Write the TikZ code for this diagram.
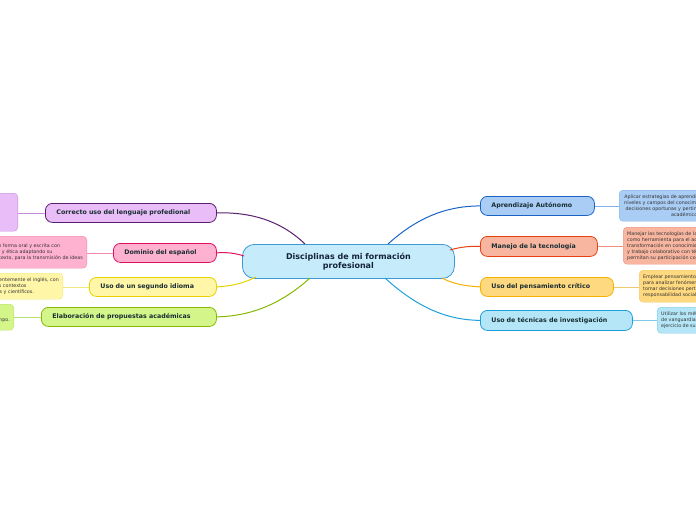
\documentclass[tikz,border=0pt]{standalone}
\usepackage{fontspec}
\setmainfont{DejaVu Sans}
\begin{document}
\begin{tikzpicture}[x=1pt,y=-1pt,
 br/.style={draw,rounded corners=7pt,line width=0.8pt,font=\fontsize{6.3}{7}\selectfont\bfseries,text={rgb,255:red,25;green,45;blue,50},inner ysep=0pt,inner xsep=11pt,align=left,anchor=north west},
 leaf/.style={draw,rounded corners=4pt,line width=0.4pt,font=\fontsize{4.8}{6}\selectfont,text=black!80,inner sep=0pt,anchor=north west,align=left},
 con/.style={line width=1pt},
 lc/.style={line width=0.6pt}]
\useasboundingbox (0,0) rectangle (696,520);
\clip (0,0) rectangle (696,520);
\definecolor{cen}{HTML}{C6EBFB}\definecolor{cenb}{HTML}{3B9AD6}
\definecolor{pu}{HTML}{E8BDF8}\definecolor{pub}{HTML}{5A1F6E}\definecolor{pul}{HTML}{C78AD8}
\definecolor{pk}{HTML}{FFB1D0}\definecolor{pkb}{HTML}{E0105E}\definecolor{pkl}{HTML}{F08AB0}
\definecolor{ye}{HTML}{FFF6A8}\definecolor{yeb}{HTML}{E6D200}\definecolor{yel}{HTML}{F0E880}
\definecolor{gr}{HTML}{D4F58A}\definecolor{grb}{HTML}{86B800}\definecolor{grl}{HTML}{B8E070}
\definecolor{bl}{HTML}{A9CDF5}\definecolor{blb}{HTML}{1A64C8}\definecolor{bll}{HTML}{80B0E8}
\definecolor{or}{HTML}{F8B6A0}\definecolor{orb}{HTML}{E84010}\definecolor{orl}{HTML}{F09080}
\definecolor{go}{HTML}{FFD97F}\definecolor{gob}{HTML}{F5B000}\definecolor{gol}{HTML}{F0C870}
\definecolor{cy}{HTML}{B4E6F8}\definecolor{cyb}{HTML}{1EA0DC}\definecolor{cyl}{HTML}{80C8E8}

\node[draw=cenb,fill=cen,rounded corners=12pt,line width=0.8pt,minimum width=212pt,minimum height=34pt,anchor=north west,align=center,font=\fontsize{8}{9.5}\selectfont\bfseries,text={rgb,255:red,20;green,35;blue,60}] (c) at (242,244) {Disciplinas de mi formación\\profesional};

% left branches
\node[br,draw=pub,fill=pu,text width=149pt,minimum height=19pt] (b1) at (45,203) {Correcto uso del lenguaje profedional};
\node[br,draw=pkb,fill=pk,text width=81pt,minimum height=19pt] (b2) at (113,243) {Dominio del español};
\node[br,draw=yeb,fill=ye,text width=105pt,minimum height=19pt] (b3) at (89,277) {Uso de un segundo idioma};
\node[br,draw=grb,fill=gr,text width=153pt,minimum height=19pt] (b4) at (41,307) {Elaboración de propuestas académicas};

\node[leaf,draw=pul,fill=pu,anchor=north east,minimum width=40pt,minimum height=38pt] (l1) at (18,193) {};
\node[leaf,draw=pkl,fill=pk,anchor=north east,minimum height=32pt,inner xsep=4pt] (l2) at (87,236) {Comunicarse en forma oral y escrita con\\responsabilidad y ética adaptando su\\lenguaje al contexto, para la transmisión de ideas};
\node[leaf,draw=yel,fill=ye,anchor=north east,minimum height=26pt,inner xsep=4pt] (l3) at (63,273) {Comunicarse eficientemente el inglés, con\\fluidez en diversos contextos\\sociales, culturales y científicos.};
\node[leaf,draw=grl,fill=gr,anchor=north east,minimum height=26pt,inner xsep=4pt] (l4) at (14,304) {Elaborar propuestas académicas y\\proyectos de investigación en su campo.};

% right branches
\node[br,draw=blb,fill=bl,text width=92pt,minimum height=19pt] (r1) at (480,196) {Aprendizaje Autónomo};
\node[br,draw=orb,fill=or,text width=95pt,minimum height=20pt] (r2) at (480,236) {Manejo de la tecnología};
\node[br,draw=gob,fill=go,text width=111pt,minimum height=19pt] (r3) at (480,277) {Uso del pensamiento crítico};
\node[br,draw=cyb,fill=cy,text width=130pt,minimum height=20pt] (r4) at (480,310) {Uso de técnicas de investigación};

\node[leaf,draw=bll,fill=bl,minimum height=31pt,inner xsep=5pt,align=center] (m1) at (619,190) {Aplicar estrategias de aprendizaje autónomo en los\\niveles y campos del conocimiento que le permitan\\decisiones oportunas y pertinentes en los ámbitos\\académicos.};
\node[leaf,draw=orl,fill=or,minimum height=37pt,inner xsep=4pt] (m2) at (623,227) {Manejar las tecnologías de la información y comunicación\\como herramienta para el acceso a la información y su\\transformación en conocimiento, dentro del aprendizaje\\y trabajo colaborativo con técnicas de vanguardia que le\\permitan su participación constructiva en la sociedad.};
\node[leaf,draw=gol,fill=go,minimum height=32pt,inner xsep=4pt] (m3) at (639,270) {Emplear pensamiento crítico, creativo y sistémico\\para analizar fenómenos de su entorno y\\tomar decisiones pertinentes con\\responsabilidad social.};
\node[leaf,draw=cyl,fill=cy,minimum height=26pt,inner xsep=4pt] (m4) at (657,307) {Utilizar los métodos y técnicas de investigación\\de vanguardia que le permitan el\\ejercicio de su profesión.};

% connectors center -> branches
\draw[con,pub] (305,244) .. controls (280,220) and (250,212) .. (b1.east);
\draw[con,pkb] (244,256) .. controls (235,253) and (225,252) .. (b2.east);
\draw[con,yeb] (256,277) .. controls (240,285) and (228,286) .. (b3.east);
\draw[con,grb] (310,278) .. controls (280,305) and (250,316) .. (b4.east);
\draw[con,blb] (388,244) .. controls (420,215) and (450,206) .. (r1.west);
\draw[con,orb] (450,250) .. controls (460,247) and (470,246) .. (r2.west);
\draw[con,gob] (442,278) .. controls (455,285) and (468,286) .. (r3.west);
\draw[con,cyb] (385,278) .. controls (420,310) and (450,320) .. (r4.west);

% branch -> leaf
\draw[lc,pul] (b1.west) -- (l1.east|-b1.west);
\draw[lc,pkl] (b2.west) -- (l2.east|-b2.west);
\draw[lc,yel] (b3.west) -- (l3.east|-b3.west);
\draw[lc,grl] (b4.west) -- (l4.east|-b4.west);
\draw[lc,bll] (r1.east) -- (m1.west|-r1.east);
\draw[lc,orl] (r2.east) -- (m2.west|-r2.east);
\draw[lc,gol] (r3.east) -- (m3.west|-r3.east);
\draw[lc,cyl] (r4.east) -- (m4.west|-r4.east);
\end{tikzpicture}
\end{document}
